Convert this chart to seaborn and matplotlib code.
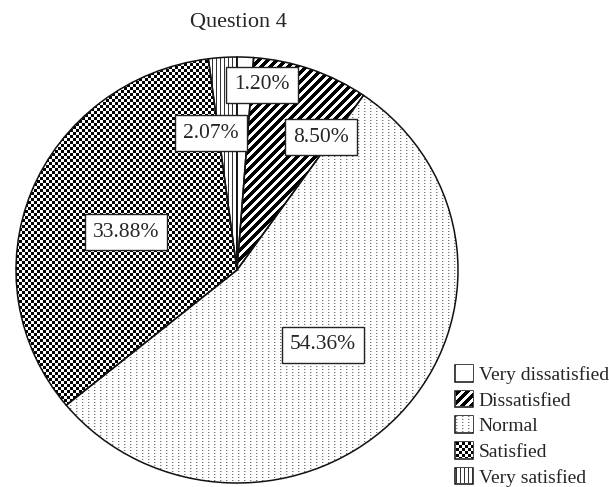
import numpy as np
import matplotlib
matplotlib.use("Agg")
import matplotlib.pyplot as plt
import seaborn as sns

# ---- data -------------------------------------------------------------
categories = ["Very dissatisfied", "Dissatisfied", "Normal", "Satisfied", "Very satisfied"]
shares = [1.20, 8.50, 54.36, 33.88, 2.07]
chart_title = "Question 4"

# where each percentage box sits, in axes data units
label_xy = [(0.113, 0.869), (0.380, 0.624), (0.389, -0.352), (-0.502, 0.178), (-0.118, 0.643)]

# ---- style ------------------------------------------------------------
sns.set_theme(style="white")
plt.rcParams["font.family"] = ["Liberation Serif", "DejaVu Serif"]

W, H, DPI = 609, 487, 100
fig = plt.figure(figsize=(W / DPI, H / DPI), dpi=DPI)
fig.patch.set_facecolor("white")
ax = fig.add_axes([16 / W, 4 / H, 442 / W, 426 / H])
ax.set_facecolor("white")

wedges, _ = ax.pie(
    shares, startangle=90, counterclock=False,
    wedgeprops=dict(facecolor="none", edgecolor="#111111", linewidth=1.1, zorder=3),
)

# ---- monochrome fill textures (pixel patterns) -------------------------
ph, pw = 426, 442
ii, jj = np.mgrid[0:ph, 0:pw]
dots = np.ones((ph, pw))
dots[(ii % 3 == 0) & (jj % 6 == 0)] = 0.45
dots[(ii % 3 == 0) & (jj % 6 == 1)] = 0.8
textures = [
    np.ones((ph, pw)),                                              # plain white
    np.where((ii + jj) % 9 < 5, 0.0, 1.0),                          # diagonal stripes
    dots,                                                           # grey dots
    np.where(((ii // 3) + (jj // 3)) % 2 == 0, 0.0, 1.0),           # checkerboard
    np.where(jj % 4 == 0, 0.2, 1.0),                                # vertical lines
]

for wedge, tex in zip(wedges, textures):
    im = ax.imshow(tex, cmap="gray", vmin=0, vmax=1, interpolation="nearest",
                   extent=(-1, 1, -1, 1), aspect="auto", zorder=2)
    im.set_clip_path(wedge)

ax.set_aspect("auto")
ax.set_xlim(-1, 1)
ax.set_ylim(-1, 1)
ax.axis("off")

# ---- percentage labels -------------------------------------------------
for (x, y), v in zip(label_xy, shares):
    ax.text(x, y, f"{v:.2f}%", ha="center", va="center", fontsize=15.5, zorder=5,
            bbox=dict(boxstyle="square,pad=0.38", fc="white", ec="#222222", lw=1.0))

fig.text(238.5 / W, 1 - 22 / H, chart_title, ha="center", va="center", fontsize=16)

# ---- legend ------------------------------------------------------------
leg = ax.legend(
    wedges, categories, loc="upper left",
    bbox_to_anchor=(455 / W, 1 - 365 / H), bbox_transform=fig.transFigure,
    frameon=False, fontsize=14, handlelength=0.95, handleheight=0.95,
    handletextpad=0.26, labelspacing=0.34, borderpad=0, borderaxespad=0,
)

fig.canvas.draw()
renderer = fig.canvas.get_renderer()
for handle, tex in zip(leg.legend_handles, textures):
    bb = handle.get_window_extent(renderer)
    x0, y0 = int(round(bb.x0)) + 1, int(round(bb.y0)) + 1
    w = int(round(bb.x1)) - x0
    h = int(round(bb.y1)) - y0
    if w > 0 and h > 0:
        fig.figimage(tex[:h, :w], xo=x0, yo=y0, cmap="gray", vmin=0, vmax=1,
                     origin="upper", zorder=10)

fig.savefig("out.png", dpi=DPI, facecolor="white")
